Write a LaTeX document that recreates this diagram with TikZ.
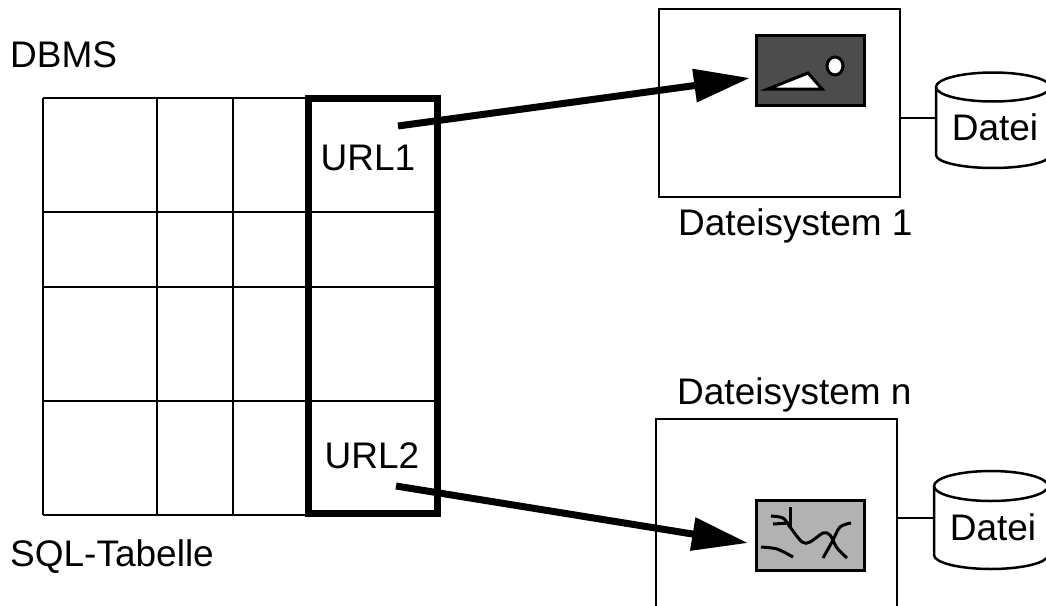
\documentclass[tikz,border=0pt]{standalone}
\usepackage{fontspec}
\setmainfont{Liberation Sans}
\usetikzlibrary{arrows.meta}

\begin{document}
\begin{tikzpicture}[x=1pt,y=-1pt]
		\tikzstyle{label text} = [inner sep=0pt, font=\fontsize{37}{40}\selectfont]
		\tikzstyle{system box} = [draw, line width=2.2pt, inner sep=0pt, outer sep=0pt, fill=white]
		\tikzstyle{bild box} = [draw, line width=3pt, inner sep=0pt, outer sep=0pt, minimum width=108pt, minimum height=70pt]
		\tikzstyle{url arrow} = [line width=7pt, -{Triangle[length=56pt,width=32pt]}]
		\tikzstyle{bild line} = [line width=3pt]
		\tikzstyle{zylinder} = [line width=2.5pt, fill=white]

		\useasboundingbox (0,0) rectangle (1046,605);
		\clip (0,0) rectangle (1046,605);

		\draw[line width=1.5pt] (43,98) -- (308,98);
		\draw[line width=1.5pt] (43,515) -- (308,515);
		\foreach \x in {43,157,233}
			\draw[line width=1.5pt] (\x,98) -- (\x,515);
		\foreach \y in {212,287,401}
			\draw[line width=2.5pt] (43,\y) -- (436,\y);
		\draw[line width=7pt] (308.5,98.5) rectangle (437.5,513.5);

		\node[label text, anchor=base west] (dbms) at (10,67) {DBMS};
		\node[label text, anchor=base west] (tabelle) at (10,566) {SQL-Tabelle};
		\node[label text, anchor=base] (url1) at (368,170) {URL1};
		\node[label text, anchor=base] (url2) at (372,468) {URL2};

		\node[system box, minimum width=241pt, minimum height=188pt] (system1) at (779.5,103) {};
		\node[system box, minimum width=241pt, minimum height=240pt] (systemn) at (776.5,539) {};
		\node[label text, anchor=base west] (name1) at (678,235) {Dateisystem 1};
		\node[label text, anchor=base west] (namen) at (677,404) {Dateisystem n};

		\node[bild box, fill=black!70] (bild1) at (810.5,70.5) {};
		\filldraw[bild line, fill=white] (768,89) -- (808,73) -- (822,89) -- cycle;
		\filldraw[bild line, fill=white] (835,66) ellipse (8 and 9);

		\node[bild box, fill=black!30] (bildn) at (810.5,535) {};
		\draw[bild line] plot[smooth] coordinates {(771,516) (783,518) (790,527) (802,542) (810,542) (823,533) (830,535) (837,548) (847,558)};
		\draw[bild line] plot[smooth] coordinates {(823,558) (832,542) (840,527) (851,523)};
		\draw[bild line] plot[smooth] coordinates {(761,547) (777,549) (793,557)};
		\draw[bild line] (790,507) -- (790,527);
		\draw[bild line] (773,524) -- (790,523);

		\coordinate (start1) at (398,126);
		\coordinate (ziel1) at (750,78);
		\coordinate (startn) at (396,486);
		\coordinate (zieln) at (748,543);
		\draw[url arrow] (start1) -- (ziel1);
		\draw[url arrow] (startn) -- (zieln);

		\filldraw[zylinder] (936,87) -- (936,155) arc[start angle=180, end angle=0, x radius=57, y radius=13] -- (1050,87);
		\draw[zylinder] (993,87) ellipse (57 and 14.5);
		\filldraw[zylinder] (934,486) -- (934,555) arc[start angle=180, end angle=0, x radius=57, y radius=14] -- (1048,486);
		\draw[zylinder] (991,486) ellipse (57 and 15);
		\node[label text, anchor=base] (datei1) at (995,140) {Datei};
		\node[label text, anchor=base] (dateien) at (993,540) {Datei};

		\coordinate (rand1) at (936,118);
		\coordinate (randn) at (934,518);
		\draw[line width=2.5pt] (system1.east |- rand1) -- (rand1);
		\draw[line width=2.5pt] (systemn.east |- randn) -- (randn);
\end{tikzpicture}
\end{document}
